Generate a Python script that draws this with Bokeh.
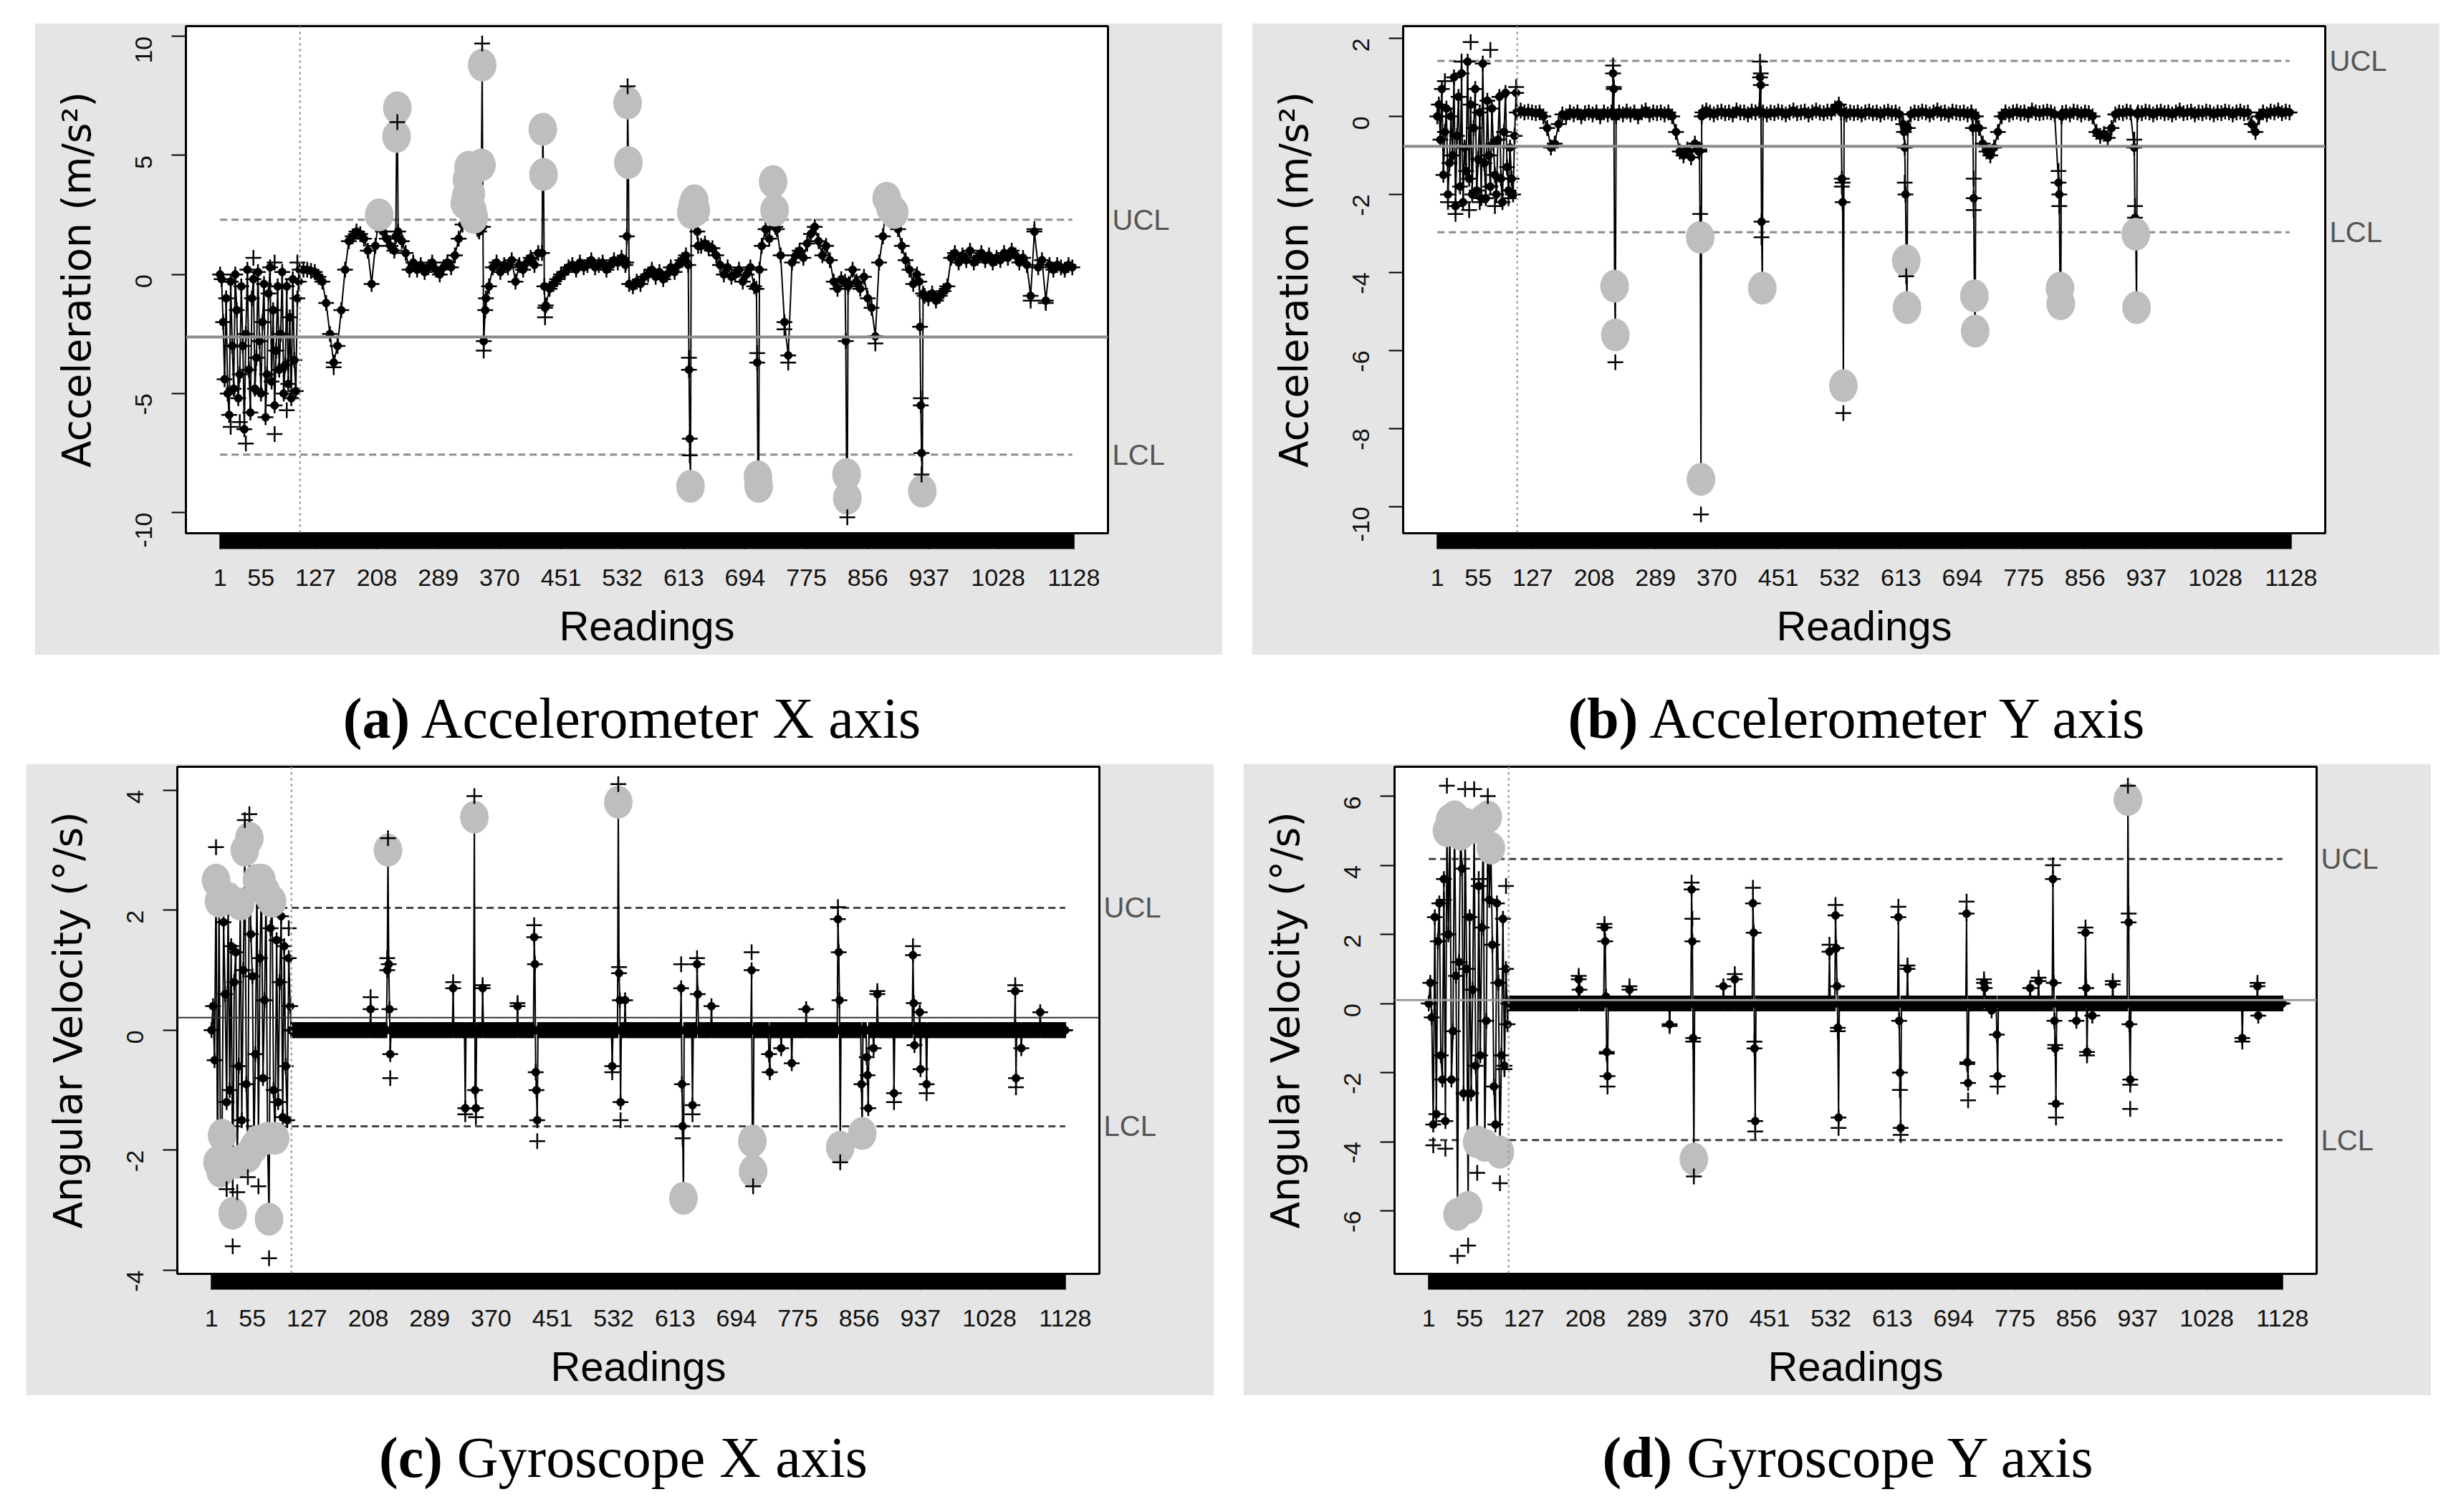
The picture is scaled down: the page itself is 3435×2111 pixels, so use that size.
import math
from bokeh.plotting import figure
from bokeh.models import FixedTicker, Span, Div, Spacer, LinearAxis
from bokeh.layouts import row, column
from bokeh.embed import file_html
from bokeh.resources import INLINE

# ---------------- shared axis data ----------------
N_READINGS = 1128
READING_TICKS = [1, 55, 127, 208, 289, 370, 451, 532, 613, 694, 775, 856, 937, 1028, 1128]
SPLIT_READING = 106.5
EARLY_READS = list(range(1, 106, 2))          # calibration part, read every 2nd reading
BASE_READS = list(range(106, 1129, 5))        # accelerometer baseline, read every 5th reading
DENSE_READS = list(range(106, N_READINGS + 1))

# ---------------- (a) Accelerometer X ----------------
acc_x_limits = {"ucl": 2.30, "center": -2.63, "lcl": -7.57}
acc_x_early = [0.0, -0.2, -2.0, -4.4, -1.0, -5.0, -5.9, -0.3, -3.0, -4.8,
               0.0, -1.5, -5.2, -4.2, -0.5, -3.0, -6.5, -2.5, 0.2, -4.0,
               -5.8, -1.0, -0.2, -4.8, -3.5, 0.1, -2.8, -5.0, -2.0, -0.4,
               -6.0, -4.2, -0.8, 0.3, -4.5, -1.5, -5.5, -3.2, -0.5, -4.0,
               -2.5, 0.1, -5.0, -3.8, -0.5, -4.6, -1.8, -5.2, -0.2, -3.6,
               -4.9, -1.0, -0.3]
acc_x_base = [0.2, 0.2, 0.2, 0.15, 0.1, -0.1, -0.3, -1.2, -2.5, -3.7,
              -3.0, -1.5, 0.2, 1.4, 1.6, 1.8, 1.7, 1.5, 1.0, -0.4,
              1.2, 2.5, 1.8, 1.5, 1.2, 1.0, 0.8, 1.4, 0.9, 0.2,
              0.5, 0.2, 0.4, 0.1, 0.3, 0.5, 0.2, 0.0, 0.3, 0.5,
              0.3, 0.8, 1.5, 2.1, 3.3, 4.2, 2.4, 1.9, 1.2, -1.5,
              -0.5, 0.3, 0.5, 0.1, 0.4, 0.3, 0.6, -0.3, 0.4, 0.2,
              0.5, 0.7, 0.4, 0.9, 0.6, -1.3, -0.6, -0.4, -0.2, 0.0,
              0.1, 0.3, 0.4, 0.2, 0.5, 0.3, 0.4, 0.6, 0.3, 0.4,
              0.5, 0.2, 0.4, 0.6, 0.5, 0.7, 0.4, -0.4, -0.5, -0.3,
              -0.4, -0.1, 0.0, 0.2, -0.1, 0.1, -0.2, 0.0, 0.3, 0.1,
              0.4, 0.6, 0.8, 1.6, 2.8, 1.8, 1.2, 1.3, 1.1, 1.1,
              0.8, 0.4, 0.0, 0.3, -0.1, 0.0, 0.2, -0.3, 0.0, 0.3,
              -0.5, 0.2, 1.2, 1.9, 1.5, 1.9, 1.9, 0.8, -2.0, -3.4,
              0.5, 0.8, 1.0, 0.7, 1.3, 1.7, 2.0, 1.4, 0.8, 1.2,
              0.6, -0.3, -0.6, -0.2, -0.5, -0.4, 0.2, -0.3, -0.6, -0.1,
              -1.0, -1.4, -2.6, 0.5, 1.6, 3.2, 2.8, 2.6, 1.9, 1.2,
              0.6, 0.2, -0.4, 0.0, -0.3, -0.9, -1.0, -0.8, -1.1, -0.9,
              -0.7, -0.5, 0.7, 0.9, 0.5, 0.8, 0.6, 1.0, 0.5, 0.7,
              0.9, 0.6, 0.8, 0.5, 0.7, 0.6, 0.9, 0.7, 1.0, 0.8,
              0.5, 0.7, 0.4, -0.9, 1.8, 0.3, 0.6, -1.1, 0.4, 0.2,
              0.4, 0.3, 0.2, 0.4, 0.3]
acc_x_events = [(233, 1.6), (234, 5.8), (235, 7.0), (236, 1.8),
                (324, 3.0), (327, 4.0), (329, 4.5), (332, 3.4), (334, 2.7), (336, 2.4),
                (338, 2.2), (343, 1.8), (346, 4.6), (347, 8.8), (348, 2.0), (349, -2.8), (352, -1.0),
                (426, 0.9), (427, 6.1), (428, 4.2), (429, -0.5), (430, -1.4),
                (537, 0.5), (538, 1.6), (539, 7.2), (540, 4.7), (541, -0.4),
                (619, 0.4), (620, -4.0), (621, -6.9), (622, -8.9), (623, 2.6), (625, 2.9),
                (627, 3.1), (629, 2.7), (632, 1.2),
                (709, -0.6), (710, -3.7), (711, -8.5), (712, -8.9), (713, 0.2),
                (731, 3.9), (733, 2.7), (734, 2.0),
                (826, -0.3), (827, -2.8), (828, -8.4), (829, -9.4), (830, -0.5),
                (924, -0.3), (925, -2.2), (926, -5.5), (927, -7.5), (928, -9.1), (929, -0.8)]
acc_x_plus = [(235, 6.4), (347, 9.7), (349, -3.2), (539, 7.9), (620, -3.5), (621, -7.6),
              (710, -3.3), (829, -10.2), (926, -5.2), (927, -8.4), (15, -6.4), (35, -7.1),
              (73, -6.7), (45, 0.7), (73, 0.5), (103, 0.5), (89, -5.7), (27, -6.2),
              (430, -1.8), (151, -3.9), (746, -2.3), (751, -3.7), (866, -2.9),
              (1071, -1.1), (1091, -1.2), (1076, 1.9)]

# ---------------- (b) Accelerometer Y ----------------
acc_y_limits = {"ucl": 1.42, "center": -0.77, "lcl": -2.97}
acc_y_early = [0.0, 0.3, -0.6, 0.7, -1.5, -0.4, 0.2, -2.0, -1.2, 0.0,
               -1.0, 1.0, -2.3, -0.5, 0.5, -1.8, 1.1, -2.2, -0.8, -1.4,
               1.4, -1.6, 0.3, -2.0, -0.3, 0.7, -1.9, -1.1, 0.1, -2.1,
               1.35, -1.2, -2.1, 0.4, -1.0, -1.8, 0.2, -0.7, -1.5, -2.0,
               -0.6, 0.5, -1.6, -2.2, -0.4, 0.6, -1.3, -1.9, -0.8, -1.6,
               -2.0, -0.5, 0.6]
acc_y_base = [0.1, 0.15, 0.1, 0.12, 0.1, 0.08, 0.1, 0.0, -0.3, -0.8,
              -0.7, -0.2, 0.05, 0.0, 0.1, 0.05, 0.1, 0.0, 0.08, 0.1,
              0.05, 0.1, 0.0, 0.1, 0.05, 0.1, 0.05, 0.1, 0.05, 0.12,
              0.05, 0.1, 0.0, 0.1, 0.15, 0.05, 0.1, 0.08, 0.1, 0.05,
              0.1, 0.0, -0.4, -0.9, -1.0, -0.85, -1.05, -0.7, -0.3, 0.1,
              0.15, 0.1, 0.05, 0.1, 0.12, 0.08, 0.1, 0.05, 0.15, 0.1,
              0.1, 0.05, 0.12, 0.1, 0.15, 0.1, 0.05, 0.1, 0.08, 0.12,
              0.1, 0.05, 0.1, 0.15, 0.08, 0.1, 0.12, 0.05, 0.1, 0.15,
              0.1, 0.08, 0.12, 0.1, 0.2, 0.3, 0.1, 0.05, 0.1, 0.08,
              0.1, 0.05, 0.1, 0.12, 0.08, 0.1, 0.05, 0.1, 0.12, 0.08,
              0.1, 0.05, -0.2, -0.4, 0.05, 0.1, 0.08, 0.12, 0.1, 0.05,
              0.1, 0.15, 0.08, 0.1, 0.05, 0.12, 0.1, 0.08, 0.1, 0.05,
              0.1, 0.0, -0.3, -0.7, -0.9, -1.0, -0.8, -0.4, 0.0, 0.1,
              0.05, 0.1, 0.12, 0.08, 0.1, 0.05, 0.15, 0.1, 0.08, 0.1,
              0.12, 0.1, 0.05, 0.1, 0.08, 0.1, 0.05, 0.12, 0.1, 0.05,
              0.1, 0.08, 0.0, -0.4, -0.5, -0.45, -0.55, -0.3, 0.05, 0.1,
              0.08, 0.12, 0.1, 0.05, 0.1, 0.08, 0.12, 0.1, 0.05, 0.1,
              0.12, 0.08, 0.1, 0.05, 0.1, 0.15, 0.08, 0.1, 0.12, 0.05,
              0.1, 0.08, 0.12, 0.1, 0.05, 0.1, 0.08, 0.12, 0.1, 0.05,
              0.1, 0.12, 0.08, 0.1, -0.2, -0.4, 0.0, 0.1, 0.05, 0.12,
              0.1, 0.15, 0.08, 0.12, 0.1]
acc_y_events = [(232, 0.1), (233, 1.1), (234, 0.7), (235, -4.35), (236, -5.6), (237, 0.0),
                (346, -0.9), (347, -0.9), (348, -3.1), (349, -9.3), (350, 0.0),
                (427, 1.0), (428, 0.8), (429, -2.7), (430, -4.4), (431, 0.1),
                (534, 0.1), (535, -1.6), (536, -2.2), (537, -6.9), (538, 0.1),
                (617, -0.4), (618, -0.8), (619, -2.0), (620, -3.7), (621, -4.9), (622, -0.3),
                (708, -0.3), (709, -2.1), (710, -4.6), (711, -5.5), (712, 0.0),
                (821, -1.7), (822, -2.0), (823, -4.4), (824, -4.8), (825, 0.0),
                (921, -0.8), (922, -2.6), (923, -3.02), (924, -4.9), (925, 0.05)]
acc_y_plus = [(233, 1.3), (234, 0.75), (236, -6.3), (348, -2.5), (349, -10.2), (347, -0.85),
              (427, 1.4), (428, 1.1), (429, -3.1), (535, -1.8), (537, -7.6), (536, -1.7),
              (618, -1.7), (620, -4.1), (709, -1.6), (709, -2.4), (821, -1.4), (822, -2.3),
              (921, -0.6), (922, -2.3), (45, 1.9), (71, 1.7), (11, 0.9), (33, 1.4),
              (25, -2.5), (43, -2.4), (57, -2.2), (95, -2.1), (105, 0.75), (15, -2.2), (77, -2.3)]

# ---------------- (c) Gyroscope X ----------------
gyr_x_limits = {"ucl": 2.04, "center": 0.21, "lcl": -1.60}
gyr_x_rest = 0.0
gyr_x_early = [0.0, 0.4, -0.5, 2.5, -2.2, 2.15, -2.35, -1.75, 1.8, 0.6,
               -1.2, 2.2, -1.0, 1.4, -3.05, 0.8, 1.3, -2.2, -0.6, 2.1,
               -1.5, 1.0, 3.0, -0.9, -2.1, 3.2, 1.6, 0.9, -1.95, -0.4,
               2.5, -1.85, 1.2, 2.5, -0.8, 0.5, 2.3, -1.8, -3.15, 1.7,
               2.15, -1.0, -1.8, 1.5, -1.2, 0.8, 1.9, -1.45, 1.4, -0.6,
               -1.5, 1.2, 0.4]
gyr_x_events = [(211, 0.35),
                (233, 1.0), (234, 3.0), (235, 1.1), (236, 0.35), (237, -0.4),
                (320, 0.7), (336, -1.3),
                (348, 3.55), (349, -1.0), (350, -1.3),
                (359, 0.7), (405, 0.4),
                (427, 1.55), (428, 1.1), (429, -0.7), (430, -1.0), (431, -1.5),
                (530, -0.6),
                (538, 3.8), (539, 0.95), (540, 0.5), (541, -1.2),
                (547, 0.5),
                (621, 0.7), (622, -0.9), (623, -1.6), (624, -2.8),
                (636, -1.25), (642, 1.1), (643, 0.6), (661, 0.4),
                (714, 1.0), (715, -1.85), (716, -2.35),
                (737, -0.4), (738, -0.7), (753, -0.3), (767, -0.55), (786, 0.35),
                (828, 1.85), (829, 1.3), (830, 0.5), (831, -1.95),
                (859, -0.9), (860, -1.72),
                (866, -0.45), (867, -0.75), (868, -1.3),
                (875, -0.3), (880, 0.6), (902, -1.05),
                (927, 1.25), (928, 0.45), (929, -0.25),
                (936, 0.3), (937, -0.65), (945, -0.9),
                (1062, 0.65), (1063, -0.8), (1070, -0.3), (1095, 0.3)]
gyr_x_plus = [(7, 3.05), (45, 3.5), (51, 3.6), (29, -3.6), (77, -3.8), (21, -2.65),
              (35, -2.7), (49, -2.45), (63, -2.6), (103, 1.7),
              (211, 0.55), (234, 3.2), (237, -0.8), (233, 1.2), (320, 0.8), (336, -1.4),
              (348, 3.9), (350, -1.45), (359, 0.75), (405, 0.45), (427, 1.75), (431, -1.85),
              (530, -0.7), (538, 4.1), (541, -1.5), (539, 1.05), (621, 1.1), (623, -1.8),
              (636, -1.4), (642, 1.2), (714, 1.3), (716, -2.6), (828, 2.05), (831, -2.2),
              (880, 0.65), (902, -1.2), (927, 1.4), (945, -1.05), (1062, 0.75), (1063, -0.95)]

# ---------------- (d) Gyroscope Y ----------------
gyr_y_limits = {"ucl": 4.18, "center": 0.10, "lcl": -3.95}
gyr_y_rest = 0.0
gyr_y_early = [0.0, 0.6, -0.4, -3.5, 2.5, -3.2, 1.8, 2.9, -1.5, -2.2,
               3.6, -3.4, 5.0, 2.0, 5.3, -2.2, -0.8, 5.4, 0.8, -6.1,
               1.2, 4.9, 3.9, -2.6, 5.2, 1.0, -5.9, 2.5, -2.6, 0.4,
               5.1, -1.8, -4.0, 3.4, -1.5, 2.2, 5.3, -4.1, -0.5, 5.4,
               3.0, 4.5, 1.7, -2.4, -3.5, 2.9, 0.6, -4.3, -1.5, 2.45,
               -1.8, 1.0, -0.6]
gyr_y_events = [(199, 0.7), (200, 0.4),
                (233, 2.2), (234, 1.8), (235, 0.2), (236, -1.4), (237, -2.1),
                (266, 0.4), (319, -0.6),
                (348, 3.3), (349, 1.8), (350, -1.0), (351, -4.5),
                (390, 0.5), (405, 0.7),
                (429, 2.9), (430, 2.05), (431, -1.3), (432, -3.4),
                (530, 1.5),
                (538, 2.55), (539, 1.6), (540, 0.5), (541, -0.7), (542, -3.3),
                (621, 2.5), (622, -0.5), (623, -2.0), (624, -3.6),
                (633, 1.0),
                (711, 2.6), (712, -1.7), (713, -2.3),
                (734, 0.6), (735, 0.45), (744, -0.2), (751, -0.9), (752, -2.1),
                (795, 0.45), (806, 0.65),
                (825, 3.6), (826, 0.6), (827, -0.5), (828, -1.3), (829, -2.9),
                (856, -0.5), (868, 2.05), (869, 0.45), (870, -1.4),
                (877, -0.35), (904, 0.55),
                (924, 5.9), (925, 2.35), (926, -0.6), (927, -2.2),
                (1075, -1.0), (1095, 0.5), (1096, -0.35)]
gyr_y_plus = [(25, 6.3), (49, 6.2), (61, 6.2), (79, 6.0), (39, -7.3), (53, -7.0),
              (65, -4.9), (95, -5.2), (7, -4.1), (23, -4.2), (21, 3.0), (67, 3.6),
              (103, 3.4), (101, -1.9),
              (199, 0.8), (233, 2.3), (237, -2.4), (236, -1.45), (266, 0.5), (319, -0.65),
              (348, 3.5), (349, 2.45), (350, -1.1), (351, -5.0), (405, 0.85),
              (429, 3.35), (432, -3.7), (431, -1.1), (530, 1.7), (538, 2.85), (542, -3.6),
              (541, -0.8), (621, 2.8), (623, -2.5), (624, -3.8), (633, 1.1),
              (711, 2.95), (713, -2.8), (712, -1.75), (734, 0.7), (752, -2.4), (806, 0.75),
              (825, 4.0), (829, -3.3), (828, -1.2), (868, 2.2), (870, -1.5), (904, 0.65),
              (924, 6.3), (925, 2.6), (927, -2.35), (927, -3.05), (1075, -1.1), (1095, 0.6)]

# ---------------- styling constants ----------------
FIG_W, FIG_H = 1658, 882
X_RANGE = (-44.1, 1173.1)
GREY_BG = "#e5e5e5"
TICK_FONT = "Liberation Sans"


def make_panel(early, base_reads, base_vals, events, plus, limits, y_range, y_ticks,
               y_label, lim_color, ctr_color, ctr_width):
    series = dict(zip(EARLY_READS, early))
    series.update(zip(base_reads, base_vals))
    series.update(dict(events))
    xs = sorted(series)
    ys = [series[r] for r in xs]
    out = [(x, y) for x, y in zip(xs, ys) if y > limits["ucl"] or y < limits["lcl"]]

    p = figure(width=FIG_W, height=FIG_H, x_range=X_RANGE, y_range=y_range,
               output_backend="svg", toolbar_location=None,
               min_border_left=211, min_border_right=160,
               min_border_top=4, min_border_bottom=170)
    p.border_fill_color = GREY_BG
    p.background_fill_color = "white"
    p.outline_line_color = "black"
    p.outline_line_width = 3
    p.grid.visible = False

    # x axis: a tick at every reading -> the thick black bar
    xa = p.xaxis[0]
    xa.ticker = FixedTicker(ticks=READING_TICKS, minor_ticks=list(range(1, N_READINGS + 1)))
    xa.axis_line_color = None
    xa.major_tick_in = 0
    xa.major_tick_out = 22
    xa.minor_tick_in = 0
    xa.minor_tick_out = 22
    xa.major_tick_line_width = 2
    xa.minor_tick_line_width = 2
    xa.major_tick_line_color = "black"
    xa.minor_tick_line_color = "black"
    xa.major_label_text_font = TICK_FONT
    xa.major_label_text_font_size = "34px"
    xa.major_label_text_color = "#111111"
    xa.major_label_standoff = 28
    xa.axis_label = "Readings"
    xa.axis_label_text_font = "Liberation Sans"
    xa.axis_label_text_font_size = "58px"
    xa.axis_label_text_font_style = "normal"
    xa.axis_label_text_color = "black"
    xa.axis_label_standoff = 20

    ya = p.yaxis[0]
    ya.ticker = FixedTicker(ticks=y_ticks, minor_ticks=[])
    ya.major_label_overrides = {t: str(t) for t in y_ticks}
    ya.axis_line_color = None
    ya.major_tick_in = 0
    ya.major_tick_out = 20
    ya.major_tick_line_width = 2
    ya.major_tick_line_color = "black"
    ya.major_label_orientation = math.pi / 2
    ya.major_label_text_font = TICK_FONT
    ya.major_label_text_font_size = "34px"
    ya.major_label_text_color = "#111111"
    ya.major_label_standoff = 39
    ya.axis_label = y_label
    ya.axis_label_text_font = "DejaVu Sans"
    ya.axis_label_text_font_size = "55px"
    ya.axis_label_text_font_style = "normal"
    ya.axis_label_text_color = "black"
    ya.axis_label_standoff = 36

    # UCL / LCL names on the right side
    lim_ticks = [limits["lcl"], limits["ucl"]]
    names = {limits["ucl"]: "UCL", limits["lcl"]: "LCL"}
    names.update({str(k): v for k, v in list(names.items())})
    ra = LinearAxis(ticker=FixedTicker(ticks=lim_ticks, minor_ticks=[]),
                    major_label_overrides=names,
                    axis_line_color=None, major_tick_line_color=None,
                    minor_tick_line_color=None, major_tick_out=0, major_tick_in=0,
                    major_label_standoff=6, major_label_text_font=TICK_FONT,
                    major_label_text_font_size="40px", major_label_text_color="#555555")
    p.add_layout(ra, "right")

    # control limits
    p.add_layout(Span(location=limits["center"], dimension="width",
                      line_color=ctr_color, line_width=ctr_width))
    for key in ("ucl", "lcl"):
        p.line([xs[0], xs[-1]], [limits[key], limits[key]], line_color=lim_color,
               line_width=3, line_dash="10 6")
    p.add_layout(Span(location=SPLIT_READING, dimension="height", line_color="#999999",
                      line_width=2.5, line_dash="3 5"))

    # series
    p.line(xs, ys, line_color="black", line_width=2)
    p.scatter(xs, ys, marker="cross", size=22, line_color="black", line_width=2.5)
    p.scatter(xs, ys, marker="circle", size=11, fill_color="black", line_color="black")
    p.ellipse([o[0] for o in out], [o[1] for o in out], width=40, height=46,
              width_units="screen", height_units="screen",
              fill_color="#bebebe", line_color=None)
    p.scatter([q[0] for q in plus], [q[1] for q in plus], marker="cross", size=22,
              line_color="black", line_width=2.5)
    return p


pa = make_panel(acc_x_early, BASE_READS, acc_x_base, acc_x_events, acc_x_plus, acc_x_limits,
                (-10.87, 10.43), [-10, -5, 0, 5, 10], "Acceleration (m/s²)",
                "#8c8c8c", "#8c8c8c", 4)
pb = make_panel(acc_y_early, BASE_READS, acc_y_base, acc_y_events, acc_y_plus, acc_y_limits,
                (-10.68, 2.31), [-10, -8, -6, -4, -2, 0, 2], "Acceleration (m/s²)",
                "#8c8c8c", "#8c8c8c", 4)
pc = make_panel(gyr_x_early, DENSE_READS, [gyr_x_rest] * len(DENSE_READS), gyr_x_events,
                gyr_x_plus, gyr_x_limits, (-4.06, 4.39), [-4, -2, 0, 2, 4],
                "Angular Velocity (°/s)", "#444444", "#333333", 2)
pd = make_panel(gyr_y_early, DENSE_READS, [gyr_y_rest] * len(DENSE_READS), gyr_y_events,
                gyr_y_plus, gyr_y_limits, (-7.82, 6.85), [-6, -4, -2, 0, 2, 4, 6],
                "Angular Velocity (°/s)", "#444444", "#9a9a9a", 3)


def caption(tag, text, pad, h):
    html = (f'<div style="width:{FIG_W}px; margin-top:{pad}px; text-align:center; '
            f'font-family:\'Liberation Serif\', serif; font-size:80px; line-height:1; '
            f'color:black; white-space:nowrap;"><b>{tag}</b> {text}</div>')
    return Div(text=html, width=FIG_W, height=h, styles={"text-align": "center"})


layout = column(
    Spacer(width=10, height=32),
    row(Spacer(width=48, height=10), pa, Spacer(width=41, height=10), pb),
    row(Spacer(width=48, height=10), caption("(a)", "Accelerometer X axis", 44, 142),
        Spacer(width=41, height=10), caption("(b)", "Accelerometer Y axis", 44, 142)),
    row(Spacer(width=36, height=10), pc, Spacer(width=41, height=10), pd),
    row(Spacer(width=36, height=10), caption("(c)", "Gyroscope X axis", 42, 120),
        Spacer(width=41, height=10), caption("(d)", "Gyroscope Y axis", 42, 120)),
)

open("out.html", "w").write(file_html(layout, INLINE))
